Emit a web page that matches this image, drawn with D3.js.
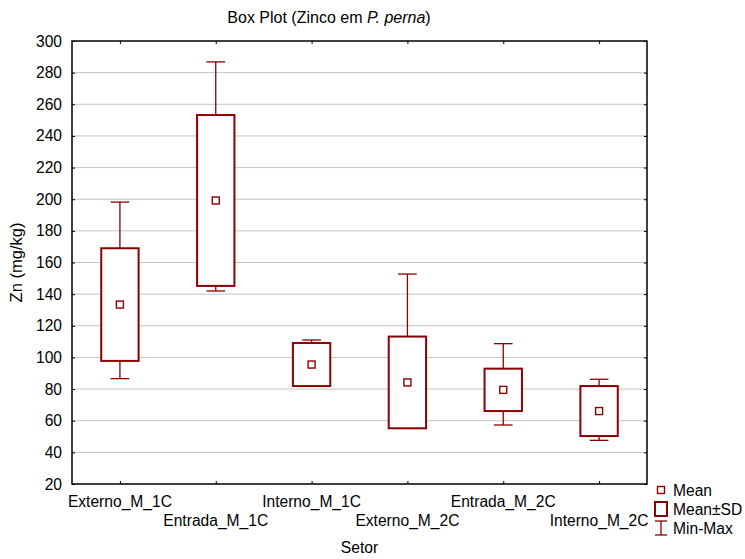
<!DOCTYPE html>
<html><head><meta charset="utf-8">
<script src="https://cdn.jsdelivr.net/npm/d3@7/dist/d3.min.js"></script>
<style>body{margin:0;background:#fff}svg{display:block;font-family:"Liberation Sans",Arial,sans-serif}</style>
</head><body>
<svg id="c" width="745" height="559"></svg>
<script>
const categories = ["Externo_M_1C","Entrada_M_1C","Interno_M_1C","Externo_M_2C","Entrada_M_2C","Interno_M_2C"];
const means = [133.4, 199.2, 95.5, 84.2, 79.5, 66.1];
const sds   = [35.6, 54.0, 13.6, 29.0, 13.4, 15.8];
const mins  = [86.6, 142.0, 82.0, 55.3, 57.3, 47.6];
const maxs  = [198.2, 286.8, 111.0, 152.7, 108.7, 86.2];
const yTicks = [20,40,60,80,100,120,140,160,180,200,220,240,260,280,300];
const legendLabels = ["Mean","Mean±SD","Min-Max"];

const data = categories.map((c,i)=>({c, mean:means[i], sd:sds[i], min:mins[i], max:maxs[i]}));
const red = "#8b0000";
const L=72, R=647, T=41, B=484;
const svg = d3.select("#c");
const x = d3.scalePoint().domain(categories).range([L,R]).padding(0.5);
const y = d3.scaleLinear().domain([20,300]).range([B,T]);
const step = x.step();
const bw = step*0.39;

// grid
svg.append("g").selectAll("line").data(yTicks.filter(t=>t>20&&t<300)).join("line")
  .attr("x1",L).attr("x2",R).attr("y1",d=>y(d)).attr("y2",d=>y(d))
  .attr("stroke","#c4c4c4").attr("stroke-width",1);

// axes
const fs = "15.6px";
const ga = svg.append("g").attr("transform",`translate(${L},0)`)
  .call(d3.axisLeft(y).tickValues(yTicks).tickSize(-3).tickPadding(10));
ga.selectAll("text").style("font-size",fs).attr("fill","#000");
const gr = svg.append("g").attr("transform",`translate(${R},0)`)
  .call(d3.axisRight(y).tickValues(yTicks).tickSize(-3).tickFormat(""));
const gt = svg.append("g").attr("transform",`translate(0,${T})`)
  .call(d3.axisTop(x).tickSize(-3).tickFormat(""));
const gb = svg.append("g").attr("transform",`translate(0,${B})`)
  .call(d3.axisBottom(x).tickSize(-3).tickFormat(""));
[ga,gr,gt,gb].forEach(g=>{g.select(".domain").remove(); g.selectAll("line").attr("stroke","#000");});
svg.append("rect").attr("x",L).attr("y",T).attr("width",R-L).attr("height",B-T)
  .attr("fill","none").attr("stroke","#000").attr("stroke-width",1.5);

// x labels staggered
svg.append("g").selectAll("text").data(categories).join("text")
  .attr("x",d=>x(d)).attr("y",(d,i)=> i%2===0 ? 507 : 526)
  .attr("text-anchor","middle").style("font-size",fs).text(d=>d);

// boxes
const g = svg.append("g");
const items = g.selectAll("g").data(data).join("g");
items.append("line").attr("x1",d=>x(d.c)).attr("x2",d=>x(d.c))
  .attr("y1",d=>y(d.max)).attr("y2",d=>y(d.mean+d.sd)).attr("stroke",red).attr("stroke-width",1.3);
items.append("line").attr("x1",d=>x(d.c)).attr("x2",d=>x(d.c))
  .attr("y1",d=>y(d.min)).attr("y2",d=>y(d.mean-d.sd)).attr("stroke",red).attr("stroke-width",1.3);
items.append("line").attr("x1",d=>x(d.c)-bw/4).attr("x2",d=>x(d.c)+bw/4)
  .attr("y1",d=>y(d.max)).attr("y2",d=>y(d.max)).attr("stroke",red).attr("stroke-width",1.3);
items.append("line").attr("x1",d=>x(d.c)-bw/4).attr("x2",d=>x(d.c)+bw/4)
  .attr("y1",d=>y(d.min)).attr("y2",d=>y(d.min)).attr("stroke",red).attr("stroke-width",1.3);
items.append("rect").attr("x",d=>x(d.c)-bw/2).attr("width",bw)
  .attr("y",d=>y(d.mean+d.sd)).attr("height",d=>y(d.mean-d.sd)-y(d.mean+d.sd))
  .attr("fill","#fff").attr("stroke",red).attr("stroke-width",2);
items.append("rect").attr("x",d=>x(d.c)-3.5).attr("y",d=>y(d.mean)-3.5)
  .attr("width",7).attr("height",7).attr("fill","#fff").attr("stroke",red).attr("stroke-width",1.4);

// titles
const title = svg.append("text").attr("x",329).attr("y",22.5).attr("text-anchor","middle").style("font-size","16px");
title.append("tspan").text("Box Plot (Zinco em ");
title.append("tspan").attr("font-style","italic").text("P. perna");
title.append("tspan").text(")");
svg.append("text").attr("transform",`translate(22,${(T+B)/2}) rotate(-90)`).attr("text-anchor","middle")
  .style("font-size","16.5px").text("Zn (mg/kg)");
svg.append("text").attr("x",(L+R)/2).attr("y",553).attr("text-anchor","middle").style("font-size",fs).text("Setor");

// legend
const lg = svg.append("g");
const lx = 661, ly = [490, 509, 528];
lg.append("rect").attr("x",lx-3.5).attr("y",ly[0]-3.5).attr("width",7).attr("height",7)
  .attr("fill","#fff").attr("stroke",red).attr("stroke-width",1.4);
lg.append("rect").attr("x",lx-6).attr("y",ly[1]-7).attr("width",12).attr("height",14)
  .attr("fill","#fff").attr("stroke",red).attr("stroke-width",2);
lg.append("line").attr("x1",lx).attr("x2",lx).attr("y1",ly[2]-7).attr("y2",ly[2]+7).attr("stroke",red).attr("stroke-width",1.3);
lg.append("line").attr("x1",lx-6).attr("x2",lx+6).attr("y1",ly[2]-7).attr("y2",ly[2]-7).attr("stroke",red).attr("stroke-width",1.3);
lg.append("line").attr("x1",lx-6).attr("x2",lx+6).attr("y1",ly[2]+7).attr("y2",ly[2]+7).attr("stroke",red).attr("stroke-width",1.3);
lg.selectAll("text").data(legendLabels).join("text").attr("x",673).attr("y",(d,i)=>ly[i]+6)
  .style("font-size",fs).text(d=>d);
</script>
</body></html>
